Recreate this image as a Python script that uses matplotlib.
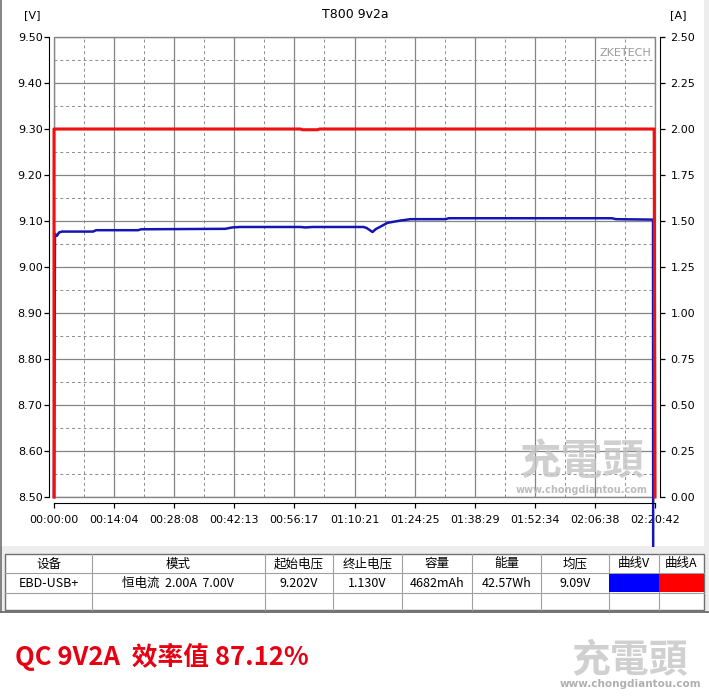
import matplotlib.pyplot as plt
from matplotlib.patches import Rectangle
from matplotlib.lines import Line2D

plt.rcParams['font.family'] = ['DejaVu Sans']
CJK = ['Noto Sans CJK SC', 'DejaVu Sans']

# voltage curve (seconds, volts)
v_time = [0, 14, 42, 70, 113, 549, 591, 1182, 1224, 2406, 2504, 2617, 3461, 3532,
          3630, 4348, 4390, 4474, 4516, 4685, 4868, 5009, 5501, 5544, 7837, 7893,
          8414, 8442]
v_volt = [8.50, 9.072, 9.068, 9.075, 9.077, 9.077, 9.080, 9.080, 9.082, 9.083,
          9.086, 9.087, 9.087, 9.086, 9.087, 9.087, 9.085, 9.076, 9.082, 9.096,
          9.101, 9.104, 9.104, 9.106, 9.106, 9.104, 9.103, 1.130]

# current curve (seconds, amps)
a_time = [0, 0, 3461, 3490, 3700, 3729, 8430, 8442]
a_amp = [0.0, 2.00, 2.00, 1.996, 1.996, 2.00, 2.00, 0.0]

total_s = 8442
x_labels = ['00:00:00', '00:14:04', '00:28:08', '00:42:13', '00:56:17', '01:10:21',
            '01:24:25', '01:38:29', '01:52:34', '02:06:38', '02:20:42']

headers = ['设备', '模式', '起始电压', '终止电压', '容量', '能量', '均压', '曲线V', '曲线A']
row = ['EBD-USB+', '恒电流  2.00A  7.00V', '9.202V', '1.130V', '4682mAh', '42.57Wh', '9.09V', '', '']

W, H = 709, 699
fig = plt.figure(figsize=(W / 100, H / 100), dpi=100)


def fx(x):
    return x / W


def fy(y):
    return 1 - y / H


ax = fig.add_axes([fx(54), fy(497), fx(655) - fx(54), fy(37) - fy(497)])
ax.set_xlim(0, total_s)
ax.set_ylim(8.5, 9.5)

step = total_s / 10
ax.set_xticks([i * step for i in range(11)])
ax.set_xticklabels(x_labels)
ax.set_xticks([(i + 0.5) * step for i in range(10)], minor=True)
ax.set_yticks([8.5 + 0.1 * i for i in range(11)])
ax.set_yticklabels(['%.2f' % (8.5 + 0.1 * i) for i in range(11)])
ax.set_yticks([8.55 + 0.1 * i for i in range(10)], minor=True)

ax.grid(which='major', color='#858585', lw=0.9, ls='-')
ax.grid(which='minor', color='#8c8c8c', lw=0.7, ls=(0, (3, 3)))
ax.set_axisbelow(True)

for s in ['top', 'right']:
    ax.spines[s].set_visible(False)
ax.spines['left'].set_position(('outward', 3.6))
ax.spines['bottom'].set_position(('outward', 4.3))
ax.tick_params(which='major', direction='out', length=3.6, width=0.9, labelsize=8)
ax.tick_params(axis='y', pad=1)
ax.tick_params(axis='x', pad=5)
ax.tick_params(which='minor', length=0)

ax.add_patch(Rectangle((0, 0), 1, 1, transform=ax.transAxes, fill=False,
                       edgecolor='#858585', lw=1, clip_on=False, zorder=1))

vline, = ax.plot(v_time, v_volt, color='#1515b4', lw=1.8, zorder=2)
clip = Rectangle((fx(50), fy(547)), fx(660) - fx(50), fy(30) - fy(547),
                 transform=fig.transFigure, visible=False)
fig.add_artist(clip)
vline.set_clip_path(clip)

ax2 = ax.twinx()
ax2.set_ylim(0, 2.5)
ax2.set_yticks([0.25 * i for i in range(11)])
ax2.set_yticklabels(['%.2f' % (0.25 * i) for i in range(11)])
for s in ['top', 'left', 'bottom']:
    ax2.spines[s].set_visible(False)
ax2.spines['right'].set_position(('outward', 3.6))
ax2.tick_params(direction='out', length=3.6, width=0.9, labelsize=8, pad=4)
ax2.plot(a_time, a_amp, color='#ee1111', lw=2.2, zorder=3, clip_on=False)

# texts around plot
fig.text(fx(355), fy(15), 'T800 9v2a', ha='center', va='center', fontsize=9)
fig.text(fx(32), fy(15), '[V]', ha='center', va='center', fontsize=8)
fig.text(fx(678), fy(15), '[A]', ha='center', va='center', fontsize=8)
fig.text(fx(625), fy(53), 'ZKETECH', ha='center', va='center', fontsize=8, color='#9a9a9a')

# watermarks
fig.text(fx(582), fy(462), '充電頭', ha='center', va='center', fontsize=30,
         family=CJK, fontweight='bold', color='#c4c4c4', alpha=0.8)
fig.text(fx(582), fy(490), 'www.chongdiantou.com', ha='center', va='center',
         fontsize=7, fontweight='bold', color='#bdbdbd')

# window background + table
fig.add_artist(Rectangle((0, fy(613)), 1, fy(546) - fy(613), transform=fig.transFigure,
                         facecolor='#ededed', edgecolor='none', zorder=0))
fig.add_artist(Line2D([0, 1], [fy(612), fy(612)], transform=fig.transFigure,
                      color='#606060', lw=1.2))
fig.add_artist(Line2D([fx(1), fx(1)], [fy(612), 1], transform=fig.transFigure,
                      color='#707070', lw=1.2))
fig.add_artist(Rectangle((fx(704), fy(546)), 1, 1, transform=fig.transFigure,
                         facecolor='#ededed', edgecolor='none', zorder=0))

cols = [5, 92, 265, 333, 402, 472, 541, 609, 659, 704]
rows = [554, 573, 593, 610]
fig.add_artist(Rectangle((fx(cols[0]), fy(rows[-1])), fx(cols[-1]) - fx(cols[0]),
                         fy(rows[0]) - fy(rows[-1]), transform=fig.transFigure,
                         facecolor='white', edgecolor='#707070', lw=1, zorder=1))
for y in rows[1:-1]:
    fig.add_artist(Line2D([fx(cols[0]), fx(cols[-1])], [fy(y), fy(y)],
                          transform=fig.transFigure, color='#a0a0a0', lw=0.8, zorder=2))
for x in cols[1:-1]:
    fig.add_artist(Line2D([fx(x), fx(x)], [fy(rows[0]), fy(rows[-1])],
                          transform=fig.transFigure, color='#a0a0a0', lw=0.8, zorder=2))
for i in range(len(headers)):
    cx = fx((cols[i] + cols[i + 1]) / 2)
    fig.text(cx, fy(564), headers[i], ha='center', va='center', fontsize=9, family=CJK)
    fig.text(cx, fy(583.5), row[i], ha='center', va='center', fontsize=9, family=CJK)
fig.add_artist(Rectangle((fx(609), fy(592)), fx(659) - fx(609), fy(574) - fy(592),
                         transform=fig.transFigure, facecolor='#0000ff', edgecolor='none', zorder=3))
fig.add_artist(Rectangle((fx(659), fy(592)), fx(704) - fx(659), fy(574) - fy(592),
                         transform=fig.transFigure, facecolor='#ff0000', edgecolor='none', zorder=3))

# bottom caption
fig.text(fx(15), fy(657), 'QC 9V2A  效率值 87.12%', ha='left', va='center', fontsize=18.5,
         family=CJK, fontweight='bold', color='#e60012')
fig.text(fx(630), fy(660), '充電頭', ha='center', va='center', fontsize=28,
         family=CJK, fontweight='bold', color='#d0d0d0')
fig.text(fx(630), fy(684), 'www.chongdiantou.com', ha='center', va='center',
         fontsize=7.5, fontweight='bold', color='#b0b0b0')

fig.savefig('out.png', dpi=100)
